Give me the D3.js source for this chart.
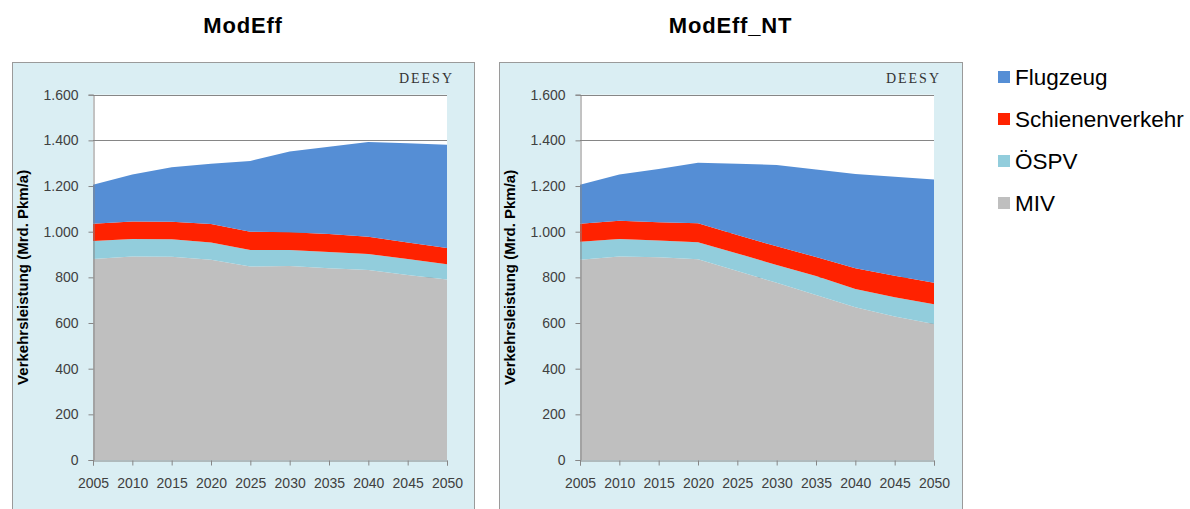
<!DOCTYPE html>
<html>
<head>
<meta charset="utf-8">
<script src="https://cdn.jsdelivr.net/npm/d3@7"></script>
<style>
  body { margin: 0; background: #fff; }
  text { font-family: "Liberation Sans", Arial, sans-serif; }
</style>
</head>
<body>
<svg id="chart" width="1190" height="509"></svg>
<script>
// years on the x axis
const years = [2005, 2010, 2015, 2020, 2025, 2030, 2035, 2040, 2045, 2050];
const seriesNames = ["MIV", "ÖSPV", "Schienenverkehr", "Flugzeug"];
const legendOrder = ["Flugzeug", "Schienenverkehr", "ÖSPV", "MIV"];
const yTicks = [0, 200, 400, 600, 800, 1000, 1200, 1400, 1600];

// ModEff (Mrd. Pkm/a)
const modEffMIV = [880, 891, 890, 877, 847, 850, 840, 832, 810, 791];
const modEffOESPV = [79, 77, 77, 76, 73, 70, 71, 70, 70, 66];
const modEffSchiene = [76, 77, 76, 81, 80, 78, 79, 76, 73, 72];
const modEffFlug = [171, 205, 239, 264, 310, 353, 382, 415, 434, 452];

// ModEff_NT (Mrd. Pkm/a)
const ntMIV = [877, 891, 888, 879, 828, 776, 723, 669, 628, 596];
const ntOESPV = [79, 77, 73, 75, 77, 78, 83, 80, 85, 86];
const ntSchiene = [79, 80, 80, 83, 80, 82, 83, 91, 94, 94];
const ntFlug = [171, 203, 234, 265, 313, 356, 383, 413, 434, 453];

const colors = {
  "Flugzeug": "#558ed5",
  "Schienenverkehr": "#ff2200",
  "ÖSPV": "#92cddc",
  "MIV": "#bfbfbf"
};

function buildRows(miv, oespv, schiene, flug) {
  return years.map((y, i) => ({
    year: y, "MIV": miv[i], "ÖSPV": oespv[i], "Schienenverkehr": schiene[i], "Flugzeug": flug[i]
  }));
}

const svg = d3.select("#chart");

function drawPanel(title, rows, box, plotLeft) {
  const g = svg.append("g");

  g.append("rect")
    .attr("x", box.x + 0.5).attr("y", box.y + 0.5)
    .attr("width", box.w).attr("height", box.h)
    .attr("fill", "#daeef3")
    .attr("stroke", "#9a9a9a")
    .attr("stroke-width", 1);

  g.append("text")
    .attr("x", box.x + box.w / 2)
    .attr("y", 33)
    .attr("text-anchor", "middle")
    .attr("font-size", 22)
    .attr("font-weight", "bold")
    .attr("letter-spacing", 0.8)
    .attr("fill", "#000")
    .text(title);

  const x = d3.scaleLinear().domain([2005, 2050]).range([plotLeft, plotLeft + 354]);
  const y = d3.scaleLinear().domain([0, 1600]).range([460, 94.7]);

  g.append("rect")
    .attr("x", x(2005)).attr("y", y(1600))
    .attr("width", x(2050) - x(2005)).attr("height", y(0) - y(1600))
    .attr("fill", "#fff");

  // grid lines
  g.append("g").selectAll("line")
    .data(yTicks.filter(d => d > 0))
    .enter().append("line")
    .attr("x1", x(2005)).attr("x2", x(2050))
    .attr("y1", d => Math.round(y(d)) + 0.5).attr("y2", d => Math.round(y(d)) + 0.5)
    .attr("stroke", "#868686");

  const stack = d3.stack().keys(seriesNames);
  const layers = stack(rows);

  const area = d3.area()
    .x(d => x(d.data.year))
    .y0(d => y(d[0]))
    .y1(d => y(d[1]));

  g.append("g").selectAll("path")
    .data(layers)
    .enter().append("path")
    .attr("d", area)
    .attr("fill", d => colors[d.key]);

  const yAxis = d3.axisLeft(y).tickValues(yTicks).tickSize(5).tickPadding(10)
    .tickFormat(d => d3.format(",")(d).replace(/,/g, "."));
  const ya = g.append("g").attr("transform", "translate(" + (Math.round(x(2005)) + 0.5) + ",0)").call(yAxis);

  const xAxis = d3.axisBottom(x).tickValues(years).tickSize(5).tickPadding(13).tickFormat(d3.format("d"));
  const xa = g.append("g").attr("transform", "translate(0," + (Math.round(y(0)) + 0.5) + ")").call(xAxis);

  [ya, xa].forEach(a => {
    a.select(".domain").attr("stroke", "#868686");
    a.selectAll(".tick line").attr("stroke", "#868686");
    a.selectAll(".tick text")
      .attr("font-size", 14)
      .attr("fill", "#404040")
      .style("font-family", "'Liberation Sans', Arial, sans-serif");
  });

  g.append("text")
    .attr("transform", "translate(" + (box.x + 16) + "," + ((y(0) + y(1600)) / 2) + ") rotate(-90)")
    .attr("text-anchor", "middle")
    .attr("font-size", 15)
    .attr("font-weight", "bold")
    .attr("fill", "#000")
    .text("Verkehrsleistung (Mrd. Pkm/a)");

  g.append("text")
    .attr("x", x(2050) + 7)
    .attr("y", 83)
    .attr("text-anchor", "end")
    .attr("font-size", 14)
    .attr("letter-spacing", 2)
    .attr("fill", "#333")
    .style("font-family", "'Liberation Serif', 'Times New Roman', serif")
    .text("DEESY");
}

drawPanel("ModEff", buildRows(modEffMIV, modEffOESPV, modEffSchiene, modEffFlug),
  { x: 12, y: 62, w: 462, h: 470 }, 93);
drawPanel("ModEff_NT", buildRows(ntMIV, ntOESPV, ntSchiene, ntFlug),
  { x: 499, y: 62, w: 463, h: 470 }, 580);

// legend
const legend = svg.append("g").attr("transform", "translate(998,0)");
const legendY = [77, 119, 161, 203];
legendOrder.forEach((name, i) => {
  legend.append("rect")
    .attr("x", 0).attr("y", legendY[i] - 6)
    .attr("width", 12).attr("height", 12)
    .attr("fill", colors[name]);
  legend.append("text")
    .attr("x", 17).attr("y", legendY[i])
    .attr("dy", "0.35em")
    .attr("font-size", 22.5)
    .attr("fill", "#000")
    .text(name);
});
</script>
</body>
</html>
